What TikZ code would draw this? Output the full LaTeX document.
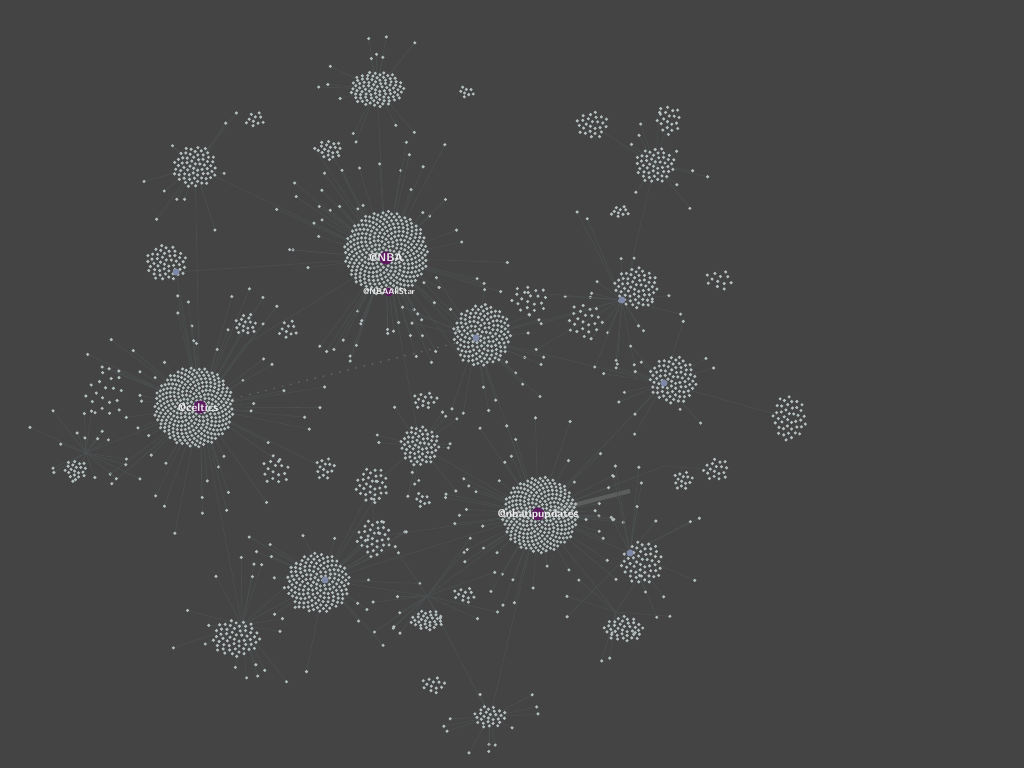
\documentclass[tikz,border=0pt]{standalone}
\usepackage{tikz}

\definecolor{bgc}{HTML}{444444}
\definecolor{dotc}{HTML}{B4BEBE}
\definecolor{edgec}{HTML}{4C5151}
\definecolor{hubc}{HTML}{5E1C60}
\definecolor{midc}{HTML}{8088A8}

% sunflower cloud of dots: x, y, rx, ry, count
\newcommand{\dotcloud}[5]{%
  \foreach \i in {1,...,#5}{
    \pgfmathsetmacro{\rr}{sqrt((\i-0.5)/#5)}
    \pgfmathsetmacro{\ang}{360*frac(\i*0.381966)}
    \fill[dotc] ({#1+#3*\rr*cos(\ang)},{#2+#4*\rr*sin(\ang)}) circle (0.17mm);
  }}
% loose dots tied to a centre: centre, x, y, r0, dr, count
\newcommand{\spokes}[6]{%
  \foreach \i in {1,...,#6}{
    \pgfmathsetmacro{\aa}{rnd*360}
    \pgfmathsetmacro{\dd}{#4+rnd*#5}
    \coordinate (leaf) at ({#2+\dd*cos(\aa)},{#3+\dd*sin(\aa)});
    \draw[edge] (#1) -- (leaf);
    \fill[dotc] (leaf) circle (0.17mm);
  }}

\begin{document}
\begin{tikzpicture}[x=0.1mm,y=-0.1mm]
\tikzset{edge/.style={draw=edgec,line width=0.15pt},
  hub/.style={circle,fill=hubc,inner sep=0pt,minimum size=1.3mm},
  mid/.style={circle,fill=midc,inner sep=0pt,minimum size=0.7mm},
  lbl/.style={text=white!85!gray,font=\fontsize{3.2}{3.2}\selectfont\sffamily\bfseries,inner sep=0pt}}
\pgfmathsetseed{11}
\fill[bgc] (0,0) rectangle (1024,768);
\useasboundingbox (0,0) rectangle (1024,768);

% cluster centres
\coordinate (nba) at (386,258);
\coordinate (celtics) at (200,407);
\coordinate (tips) at (538,514);
\coordinate (allstar) at (389,292);
\coordinate (cA) at (476,338);
\coordinate (cB) at (325,580);
\coordinate (cC) at (377,89);
\coordinate (cD) at (195,167);
\coordinate (cE) at (176,272);
\coordinate (cF) at (622,300);
\coordinate (cG) at (664,383);
\coordinate (cH) at (655,165);
\coordinate (cI) at (789,418);
\coordinate (cJ) at (630,553);
\coordinate (cK) at (242,625);
\coordinate (cL) at (616,612);
\coordinate (cM) at (420,446);
\coordinate (cN) at (427,596);
\coordinate (cO) at (490,717);
\coordinate (cP) at (86,453);
\coordinate (cQ) at (592,125);
\coordinate (cR) at (669,120);
\coordinate (cS) at (330,150);
\coordinate (cT) at (372,485);
\coordinate (cU) at (374,537);
\coordinate (cV) at (245,345);
\coordinate (cX) at (664,466);
\coordinate (cY) at (716,470);
\coordinate (cZ) at (325,468);
\coordinate (band) at (630,491);

% links between clusters
\draw[edge] (nba) -- (cA) (nba) -- (cC) (nba) -- (cD) (nba) -- (cS)
  (nba) -- (cV) (nba) -- (cM) (nba) -- (allstar) (nba) -- (cE)
  (celtics) -- (cE) (celtics) -- (cP) (celtics) -- (cV) (celtics) -- (cZ)
  (celtics) -- (cK) (celtics) -- (cD)
  (tips) -- (cA) (tips) -- (cG) (tips) -- (cJ) (tips) -- (cL) (tips) -- (cB)
  (tips) -- (cM) (tips) -- (cN) (tips) -- (cO) (tips) -- (cX) (tips) -- (cU)
  (cA) -- (cF) (cA) -- (cG) (cF) -- (cH) (cB) -- (cK) (cB) -- (cT)
  (cO) -- (cN) (cH) -- (cQ) (cH) -- (cR) (cG) -- (cI) (cX) -- (cY)
  (cB) -- (cN) (cT) -- (cU);
\draw[draw=dotc,opacity=0.3,line width=0.4pt,dotted] (celtics) -- (cA);
\draw[draw=dotc,opacity=0.22,line width=1.2pt] (tips) -- (band);

% loose dots
\spokes{nba}{386}{258}{55}{80}{60}
\spokes{celtics}{200}{407}{50}{80}{55}
\spokes{tips}{538}{514}{48}{60}{45}
\spokes{cA}{476}{338}{38}{50}{22}
\spokes{cB}{325}{580}{40}{55}{24}
\spokes{cC}{377}{89}{30}{40}{14}
\spokes{cD}{195}{167}{28}{40}{10}
\spokes{cF}{622}{300}{30}{70}{22}
\spokes{cG}{664}{383}{30}{40}{14}
\spokes{cH}{655}{165}{25}{35}{10}
\spokes{cJ}{630}{553}{30}{60}{14}
\spokes{cK}{242}{625}{30}{45}{18}
\spokes{cP}{86}{453}{15}{50}{18}
\spokes{cM}{420}{446}{25}{35}{14}
\spokes{cO}{490}{717}{22}{35}{12}
\spokes{cN}{427}{596}{25}{50}{14}
\spokes{cL}{616}{612}{20}{35}{8}

% clouds
\dotcloud{386}{253}{42}{42}{330}
\dotcloud{194}{407}{40}{40}{320}
\dotcloud{540}{515}{38}{38}{290}
\dotcloud{482}{335}{29}{31}{150}
\dotcloud{318}{583}{32}{30}{160}
\dotcloud{377}{89}{27}{18}{90}
\dotcloud{195}{167}{22}{21}{65}
\dotcloud{166}{263}{21}{18}{50}
\dotcloud{636}{288}{22}{21}{60}
\dotcloud{673}{380}{24}{24}{80}
\dotcloud{655}{165}{20}{18}{48}
\dotcloud{789}{418}{17}{23}{42}
\dotcloud{642}{563}{21}{22}{52}
\dotcloud{236}{638}{24}{19}{56}
\dotcloud{624}{629}{20}{13}{38}
\dotcloud{420}{446}{20}{20}{62}
\dotcloud{427}{620}{17}{10}{32}
\dotcloud{490}{717}{17}{11}{28}
\dotcloud{76}{470}{12}{10}{20}
\dotcloud{592}{125}{16}{14}{26}
\dotcloud{669}{120}{13}{15}{20}
\dotcloud{330}{150}{13}{10}{20}
\dotcloud{372}{485}{17}{18}{32}
\dotcloud{374}{537}{18}{18}{32}
\dotcloud{245}{325}{12}{10}{16}
\dotcloud{425}{400}{13}{9}{14}
\dotcloud{683}{480}{10}{10}{14}
\dotcloud{716}{470}{13}{12}{18}
\dotcloud{325}{468}{10}{12}{14}
\dotcloud{465}{595}{12}{8}{12}
\dotcloud{433}{685}{12}{9}{13}
\dotcloud{620}{212}{10}{6}{10}
\dotcloud{585}{320}{18}{18}{22}
\dotcloud{530}{300}{20}{15}{20}
\dotcloud{720}{280}{15}{10}{12}
\dotcloud{466}{92}{8}{6}{8}
\dotcloud{255}{120}{10}{8}{10}
\dotcloud{275}{470}{15}{15}{16}
\dotcloud{105}{395}{20}{25}{18}
\dotcloud{422}{500}{8}{8}{8}
\dotcloud{288}{330}{10}{10}{10}

% centre markers
\node[mid] (cAmid) at (cA) {};
\node[mid] (cBmid) at (cB) {};
\node[mid] (cEmid) at (cE) {};
\node[mid] (cFmid) at (cF) {};
\node[mid] (cGmid) at (cG) {};
\node[mid] (cJmid) at (cJ) {};

% hubs
\node[hub] (nbahub) at (nba) {};
\node[lbl] at (nba) {@NBA};
\node[hub,minimum size=0.9mm] (allstarhub) at (allstar) {};
\node[lbl,font=\fontsize{2.4}{2.4}\selectfont\sffamily\bfseries] at (allstar) {@NBAAllStar};
\node[hub] (celticshub) at (celtics) {};
\node[lbl] at (198,408) {@celtics};
\node[hub] (tipshub) at (tips) {};
\node[lbl] at (538,515) {@nbatipupdates};
\end{tikzpicture}
\end{document}
